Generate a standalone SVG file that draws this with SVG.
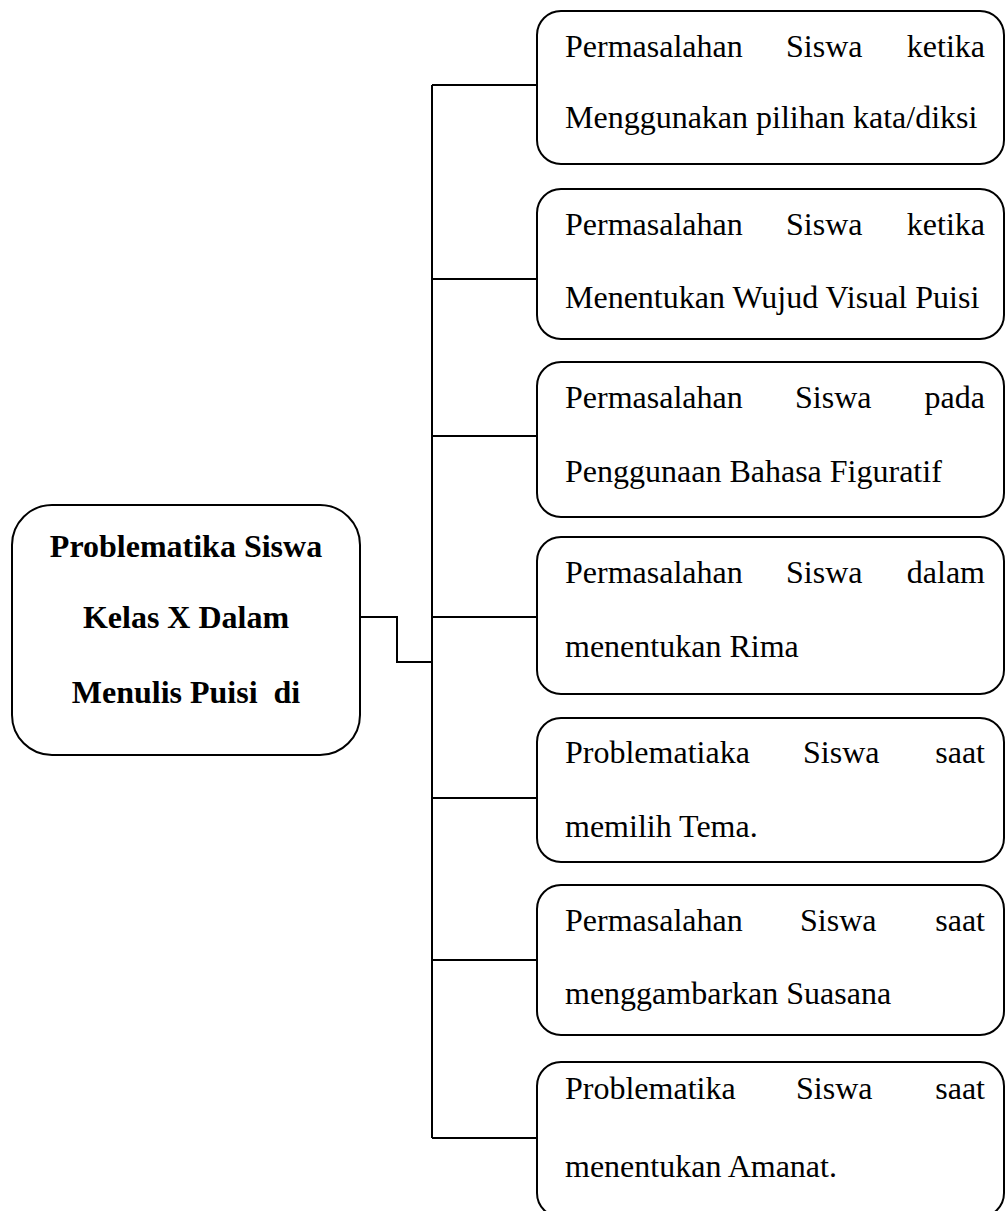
<svg xmlns="http://www.w3.org/2000/svg" width="1006" height="1211" viewBox="0 0 1006 1211">
<style>
.box{fill:#fff;stroke:#000;stroke-width:2}
.ln{fill:none;stroke:#000;stroke-width:2}
.t{font-family:"Liberation Serif","Times New Roman",serif;font-size:32px;fill:#000}
.b{font-weight:bold;text-anchor:middle}
.e{text-anchor:end}
</style>
<rect width="1006" height="1211" fill="#fff"/>
<g id="connectors">
<polyline class="ln" points="360,617 397,617 397,662 432,662"/>
<line class="ln" x1="432" y1="85" x2="432" y2="1138"/>
<line class="ln" x1="432" y1="85" x2="538" y2="85"/>
<line class="ln" x1="432" y1="279" x2="538" y2="279"/>
<line class="ln" x1="432" y1="436" x2="538" y2="436"/>
<line class="ln" x1="432" y1="617" x2="538" y2="617"/>
<line class="ln" x1="432" y1="798" x2="538" y2="798"/>
<line class="ln" x1="432" y1="960" x2="538" y2="960"/>
<line class="ln" x1="432" y1="1138" x2="538" y2="1138"/>
</g>
<g id="root">
<rect class="box" x="12" y="505" width="348" height="250" rx="40" ry="40"/>
<text class="t b" x="186" y="557">Problematika Siswa</text>
<text class="t b" x="186" y="628">Kelas X Dalam</text>
<text class="t b" x="186" y="703" style="white-space:pre">Menulis Puisi  di</text>
</g>
<g id="n1">
<rect class="box" x="537" y="11" width="467" height="153" rx="24" ry="24"/>
<text class="t" x="565" y="57">Permasalahan</text>
<text class="t" x="786" y="57">Siswa</text>
<text class="t e" x="985" y="57">ketika</text>
<text class="t" x="565" y="128">Menggunakan pilihan kata/diksi</text>
</g>
<g id="n2">
<rect class="box" x="537" y="189" width="467" height="150" rx="24" ry="24"/>
<text class="t" x="565" y="235">Permasalahan</text>
<text class="t" x="786" y="235">Siswa</text>
<text class="t e" x="985" y="235">ketika</text>
<text class="t" x="565" y="308">Menentukan Wujud Visual Puisi</text>
</g>
<g id="n3">
<rect class="box" x="537" y="362" width="467" height="155" rx="24" ry="24"/>
<text class="t" x="565" y="408">Permasalahan</text>
<text class="t" x="795" y="408">Siswa</text>
<text class="t e" x="985" y="408">pada</text>
<text class="t" x="565" y="482">Penggunaan Bahasa Figuratif</text>
</g>
<g id="n4">
<rect class="box" x="537" y="537" width="467" height="157" rx="24" ry="24"/>
<text class="t" x="565" y="583">Permasalahan</text>
<text class="t" x="786" y="583">Siswa</text>
<text class="t e" x="985" y="583">dalam</text>
<text class="t" x="565" y="657">menentukan Rima</text>
</g>
<g id="n5">
<rect class="box" x="537" y="718" width="467" height="144" rx="24" ry="24"/>
<text class="t" x="565" y="763">Problematiaka</text>
<text class="t" x="803" y="763">Siswa</text>
<text class="t e" x="985" y="763">saat</text>
<text class="t" x="565" y="837">memilih Tema.</text>
</g>
<g id="n6">
<rect class="box" x="537" y="885" width="467" height="150" rx="24" ry="24"/>
<text class="t" x="565" y="931">Permasalahan</text>
<text class="t" x="800" y="931">Siswa</text>
<text class="t e" x="985" y="931">saat</text>
<text class="t" x="565" y="1004">menggambarkan Suasana</text>
</g>
<g id="n7">
<rect class="box" x="537" y="1062" width="467" height="155" rx="24" ry="24"/>
<text class="t" x="565" y="1099">Problematika</text>
<text class="t" x="796" y="1099">Siswa</text>
<text class="t e" x="985" y="1099">saat</text>
<text class="t" x="565" y="1177">menentukan Amanat.</text>
</g>
</svg>
